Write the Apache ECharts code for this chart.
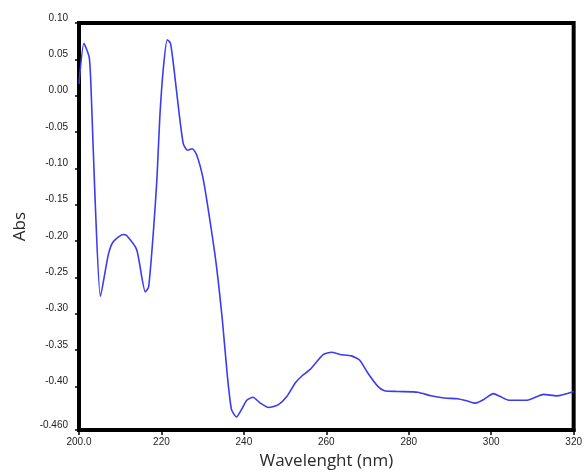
<!DOCTYPE html>
<html>
<head>
<meta charset="utf-8">
<script src="https://cdn.jsdelivr.net/npm/echarts@6/dist/echarts.min.js"></script>
<style>
  html, body { margin: 0; padding: 0; background: #fff; }
  #chart { width: 585px; height: 475px; }
</style>
</head>
<body>
<div id="chart"></div>
<script>
// UV absorbance spectrum: wavelength (nm) against absorbance
const wavelength = [
  200.0, 201.2, 202.5, 203.0, 203.9, 205.2, 207.1, 208.3, 210.7,
  211.5, 214.0, 216.1, 216.9, 218.1, 218.9, 219.6, 220.4, 221.4, 222.2,
  223.1, 224.2, 225.3, 226.3, 227.5, 228.5, 230.0, 231.2, 233.2,
  234.8, 236.0, 237.0, 238.2, 239.4, 240.7, 242.2, 244.0, 246.0, 248.4,
  250.4, 252.5, 254.0, 256.0, 259.3, 261.3, 263.3, 266.1, 268.1, 270.1,
  272.5, 274.1, 277.3, 282.2, 285.4, 288.6, 291.8, 294.2, 296.2, 298.2,
  300.5, 302.2, 304.3, 308.7, 312.7, 315.9, 320.0
];
const absorbance = [
  0.016, 0.072, 0.052, -0.002, -0.142, -0.276, -0.219, -0.201, -0.191,
  -0.192, -0.212, -0.270, -0.263, -0.183, -0.115, -0.030, 0.034, 0.077, 0.072,
  0.034, -0.020, -0.066, -0.075, -0.073, -0.081, -0.111, -0.151, -0.228,
  -0.310, -0.386, -0.432, -0.442, -0.432, -0.419, -0.415, -0.423, -0.429, -0.425,
  -0.414, -0.395, -0.386, -0.377, -0.356, -0.353, -0.356, -0.358, -0.364, -0.382,
  -0.400, -0.406, -0.407, -0.408, -0.413, -0.416, -0.417, -0.420, -0.423, -0.418,
  -0.410, -0.414, -0.419, -0.419, -0.411, -0.413, -0.407
];

// Axis ticks
const xTicks = [200, 220, 240, 260, 280, 300, 320];
const yTicks = [-0.46, -0.40, -0.35, -0.30, -0.25, -0.20, -0.15, -0.10, -0.05, 0.00, 0.05, 0.10];

const points = wavelength.map((w, i) => [w, absorbance[i]]);
const tickFont = { fontFamily: 'Liberation Sans', fontSize: 10, color: '#222' };

const chart = echarts.init(document.getElementById('chart'));
chart.setOption({
  animation: false,
  backgroundColor: '#fff',
  grid: {
    left: 79, right: 7, top: 23, bottom: 43,
    show: true, borderColor: '#000', borderWidth: 4, backgroundColor: 'transparent'
  },
  xAxis: {
    type: 'value',
    min: 200, max: 320, interval: 20,
    name: 'Wavelenght (nm)',
    nameLocation: 'middle',
    nameGap: 23,
    nameTextStyle: { fontFamily: 'Open Sans', fontSize: 17, color: '#2a2a2a' },
    axisLine: { show: true, onZero: false, lineStyle: { color: '#000', width: 4 } },
    axisTick: {
      show: true, inside: false, length: 5, customValues: xTicks,
      lineStyle: { color: '#000', width: 1.5 }
    },
    axisLabel: Object.assign({
      margin: 7,
      customValues: xTicks,
      formatter: v => (v === 200 ? '200.0' : String(v))
    }, tickFont),
    splitLine: { show: false }
  },
  yAxis: {
    type: 'value',
    min: -0.46, max: 0.10, interval: 0.01,
    name: 'Abs',
    nameLocation: 'middle',
    nameGap: 48,
    nameRotate: 90,
    nameTextStyle: { fontFamily: 'Open Sans', fontSize: 17, color: '#2a2a2a' },
    axisLine: { show: true, onZero: false, lineStyle: { color: '#000', width: 4 } },
    axisTick: {
      show: true, length: 4, customValues: yTicks,
      lineStyle: { color: '#000', width: 1.5 }
    },
    axisLabel: Object.assign({
      margin: 11,
      customValues: yTicks,
      verticalAlign: 'bottom',
      formatter: v => (Math.abs(v + 0.46) < 1e-9 ? '-0.460' : v.toFixed(2))
    }, tickFont),
    splitLine: { show: false }
  },
  series: [{
    type: 'line',
    data: points,
    smooth: 0.2,
    showSymbol: false,
    lineStyle: { color: '#3b3bf2', width: 1.6 }
  }]
});
</script>
</body>
</html>
